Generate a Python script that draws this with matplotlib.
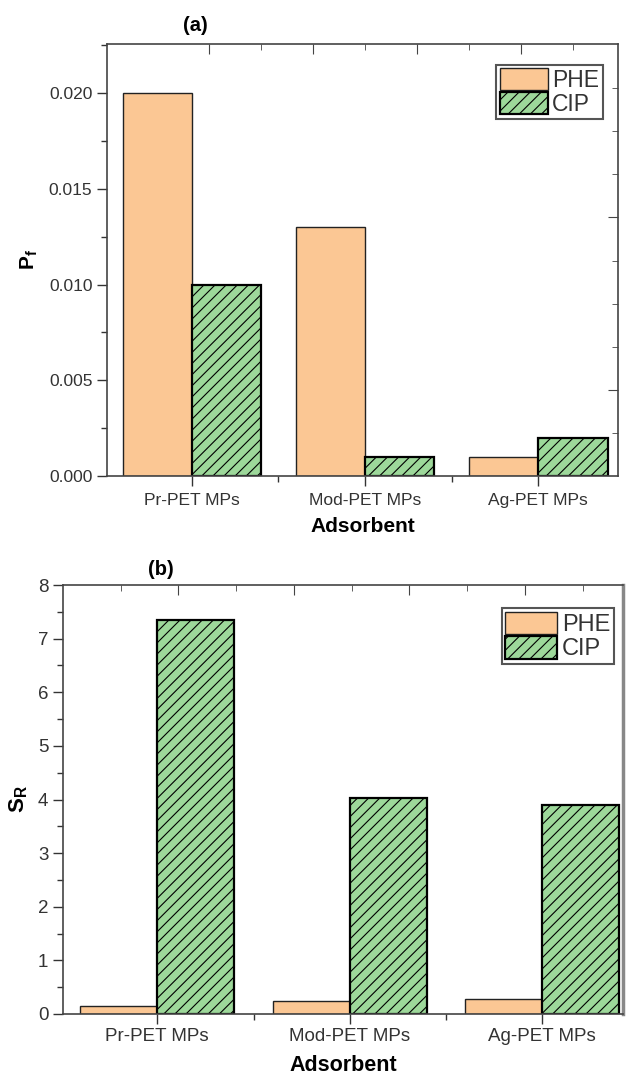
import matplotlib
matplotlib.use("Agg")
import matplotlib.pyplot as plt
import numpy as np
from matplotlib.ticker import MultipleLocator, FixedLocator, NullFormatter

plt.rcParams['font.family'] = ['Liberation Sans', 'DejaVu Sans']
plt.rcParams['mathtext.fontset'] = 'custom'
plt.rcParams['mathtext.rm'] = 'Liberation Sans'
plt.rcParams['mathtext.bf'] = 'Liberation Sans:bold'
plt.rcParams['mathtext.it'] = 'Liberation Sans:italic'
plt.rcParams['hatch.linewidth'] = 0.8

categories = ["Pr-PET MPs", "Mod-PET MPs", "Ag-PET MPs"]
series = ["PHE", "CIP"]
pf_phe = [0.020, 0.013, 0.001]
pf_cip = [0.010, 0.001, 0.002]
sr_phe = [0.15, 0.25, 0.28]
sr_cip = [7.35, 4.02, 3.90]

phe_color = "#FBC794"
cip_color = "#9DD89A"

W, H = 631, 1077
fig = plt.figure(figsize=(W/100, H/100), dpi=100)

def px_axes(l, t, r, b):
    return fig.add_axes([l/W, 1-b/H, (r-l)/W, (b-t)/H])

x = np.arange(len(categories))
bw = 0.4

def panel(ax, phe, cip, ylim, ymaj, ymin, yfmt, ylabel, xlim, fs_tick, fs_lab, fs_ylab, legpos, hl, hh, fs_leg, tpad, lpad):
    ax.bar(x - bw/2, phe, bw, color=phe_color, edgecolor="#222222", linewidth=1.0, label=series[0])
    ax.bar(x + bw/2, cip, bw, color=cip_color, edgecolor="black", linewidth=1.6, hatch="///", label=series[1])
    ax.set_xlim(*xlim)
    ax.set_ylim(*ylim)
    ax.yaxis.set_major_locator(MultipleLocator(ymaj))
    ax.yaxis.set_minor_locator(MultipleLocator(ymin))
    if yfmt:
        ax.yaxis.set_major_formatter(plt.FuncFormatter(lambda v, p: f"{v:.3f}"))
    ax.set_xticks(x)
    ax.set_xticklabels(categories)
    ax.xaxis.set_minor_locator(FixedLocator([0.5, 1.5]))
    ax.tick_params(axis='both', which='major', direction='out', length=7, width=1, labelsize=fs_tick, colors="#333333", labelcolor="#333333")
    ax.tick_params(axis='both', which='minor', direction='out', length=4, width=1, colors="#333333")
    ax.tick_params(axis='x', which='major', pad=tpad)
    for s in ax.spines.values():
        s.set_color("#444444")
        s.set_linewidth(1.2)
    ax.set_xlabel("Adsorbent", fontsize=fs_lab, fontweight='bold', labelpad=lpad)
    ax.set_ylabel(ylabel, fontsize=fs_ylab, fontweight='bold', labelpad=6)
    leg = ax.legend(loc='upper right', bbox_to_anchor=legpos, borderaxespad=0, fancybox=False,
                    edgecolor="#555555", framealpha=1, fontsize=fs_leg, handlelength=hl, handleheight=hh,
                    handletextpad=0.2, labelspacing=0.0, borderpad=0.15)
    leg.get_frame().set_linewidth(1.5)
    for t in leg.get_texts():
        t.set_color("#333333")
    return ax

# Panel (a)
ax1 = px_axes(107, 44, 618, 476)
panel(ax1, pf_phe, pf_cip, (0, 0.02256), 0.005, 0.0025, True, r"$\mathbf{P_f}$", (-0.49, 2.46),
      12.5, 15, 15, (0.97, 0.952), 2.1, 1.1, 16.5, 5, 7)
ax1.text(0.172, 1.042, "(a)", transform=ax1.transAxes, fontsize=14.5, fontweight='bold', ha='center', va='center')
# top/right ticks (inward)
ax1t = ax1.twiny()
ax1t.set_xlim(ax1.get_xlim())
ax1t.xaxis.set_major_locator(FixedLocator([0.1, 0.7, 1.3, 1.9]))
ax1t.xaxis.set_minor_locator(FixedLocator([0.4, 1.0, 1.6, 2.2]))
ax1t.xaxis.set_major_formatter(NullFormatter())
ax1t.tick_params(axis='x', which='major', direction='in', length=7, colors="#444444")
ax1t.tick_params(axis='x', which='minor', direction='in', length=4, colors="#444444")
ax1r = ax1.twinx()
ax1r.set_ylim(ax1.get_ylim())
ax1r.yaxis.set_major_locator(FixedLocator([0.0045, 0.0135]))
ax1r.yaxis.set_minor_locator(FixedLocator([0.00225, 0.009, 0.018, 0.02025, 0.00675, 0.01125, 0.01575]))
ax1r.yaxis.set_major_formatter(NullFormatter())
ax1r.tick_params(axis='y', which='major', direction='in', length=7, colors="#444444")
ax1r.tick_params(axis='y', which='minor', direction='in', length=4, colors="#444444")
for a in (ax1t, ax1r):
    for s in a.spines.values():
        s.set_visible(False)

# Panel (b)
ax2 = px_axes(63, 585, 623, 1014)
panel(ax2, sr_phe, sr_cip, (0, 8), 1, 0.5, False, r"$\mathbf{S_R}$", (-0.49, 2.42),
      13.5, 15.5, 16, (0.984, 0.946), 2.2, 1.1, 17, 3, 7)
ax2.text(0.175, 1.037, "(b)", transform=ax2.transAxes, fontsize=14.5, fontweight='bold', ha='center', va='center')
ax2t = ax2.twiny()
ax2t.set_xlim(ax2.get_xlim())
ax2t.xaxis.set_major_locator(FixedLocator([0.11, 0.71, 1.31, 1.91]))
ax2t.xaxis.set_minor_locator(FixedLocator([-0.19, 0.41, 1.01, 1.61, 2.21]))
ax2t.xaxis.set_major_formatter(NullFormatter())
ax2t.tick_params(axis='x', which='major', direction='in', length=7, colors="#444444")
ax2t.tick_params(axis='x', which='minor', direction='in', length=4, colors="#444444")
ax2.spines['right'].set_color("#888888")
ax2.spines['right'].set_linewidth(2.5)
ax2.tick_params(axis='y', which='both', right=False)
for s in ax2t.spines.values():
    s.set_visible(False)

fig.savefig("out.png", dpi=100)
